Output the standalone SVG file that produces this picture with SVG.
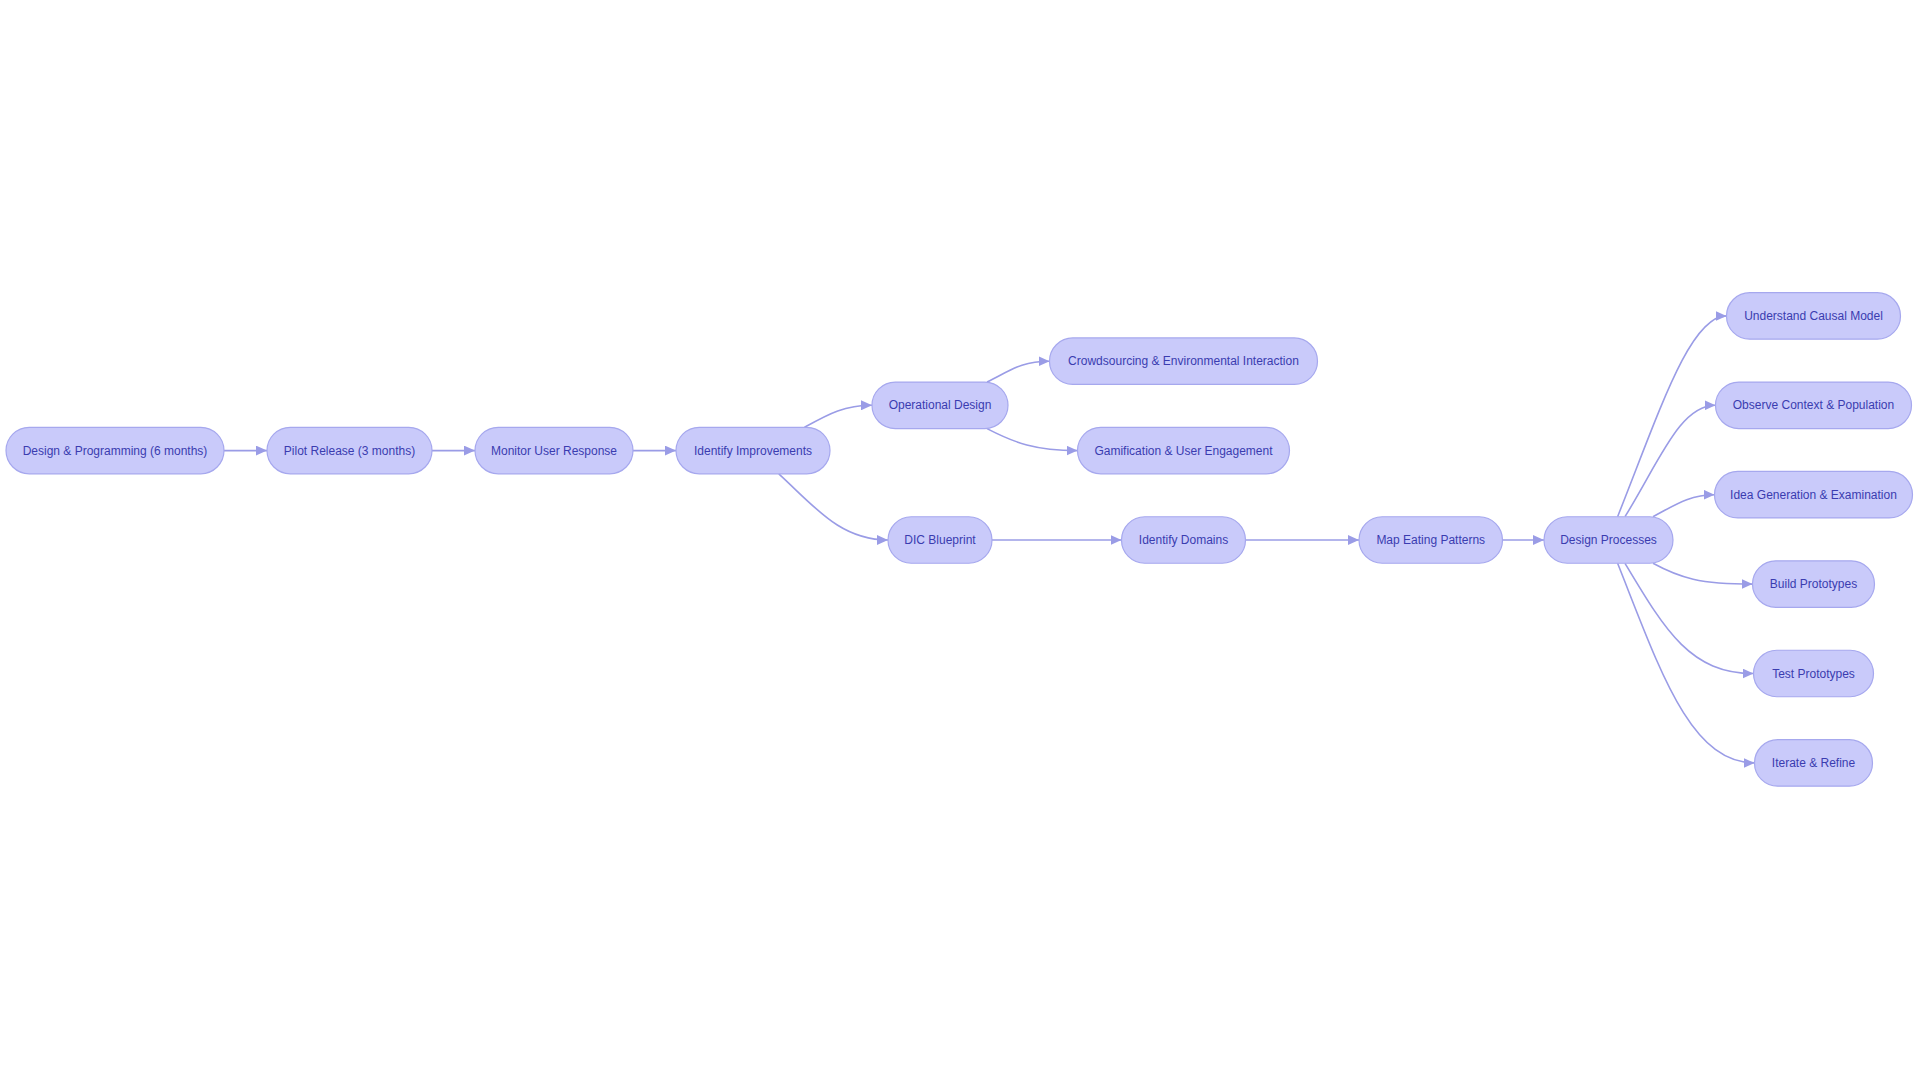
<svg xmlns="http://www.w3.org/2000/svg" width="1920" height="1080" viewBox="0 0 1920 1080">
<style>
.node rect{fill:#c9cafa;stroke:#a6a8ee;stroke-width:1.2}
.node text{font-family:"Liberation Sans",Arial,sans-serif;font-size:12px;fill:#3a3cb0;text-anchor:middle}
.edges path{fill:none;stroke:#9a9ce6;stroke-width:1.6;marker-end:url(#arrow)}
</style>
<defs>
<marker id="arrow" viewBox="0 0 11 10" refX="11" refY="5" markerWidth="11" markerHeight="10" markerUnits="userSpaceOnUse" orient="auto">
<path d="M0,0 L11,5 L0,10 z" fill="#9a9ce6"/>
</marker>
</defs>
<rect width="1920" height="1080" fill="#ffffff"/>
<g id="edges" class="edges">
<path d="M224,450.6 L267,450.6"/>
<path d="M432,450.6 L475,450.6"/>
<path d="M633,450.6 L676,450.6"/>
<path d="M804.5,427.3 C830,413 845,405.3 872,405.3"/>
<path d="M778.8,473.9 C815,507 840,540 888,540"/>
<path d="M987,382 C1010,371 1020,361.2 1049.5,361.2"/>
<path d="M987,428.6 C1015,443 1035,450.6 1077.5,450.6"/>
<path d="M992,540 L1121.5,540"/>
<path d="M1245.5,540 L1359,540"/>
<path d="M1502.5,540 L1544,540"/>
<path d="M1617.6,516.7 C1660,410 1690,315.9 1726.5,315.9"/>
<path d="M1625,516.7 C1660,460 1680,405.3 1715.5,405.3"/>
<path d="M1653,516.7 C1675,505 1690,494.7 1714.5,494.7"/>
<path d="M1653,563.3 C1680,578 1700,584.1 1752.5,584.1"/>
<path d="M1625,563.3 C1665,630 1690,673.5 1753.5,673.5"/>
<path d="M1617.6,563.3 C1660,670 1690,762.9 1754.5,762.9"/>
</g>
<g id="n1" class="node"><rect x="6" y="427.35" width="218" height="46.5" rx="23.25"/><text x="115" y="454.6">Design &amp; Programming (6 months)</text></g>
<g id="n2" class="node"><rect x="267" y="427.35" width="165" height="46.5" rx="23.25"/><text x="349.5" y="454.6">Pilot Release (3 months)</text></g>
<g id="n3" class="node"><rect x="475" y="427.35" width="158" height="46.5" rx="23.25"/><text x="554" y="454.6">Monitor User Response</text></g>
<g id="n4" class="node"><rect x="676" y="427.35" width="154" height="46.5" rx="23.25"/><text x="753" y="454.6">Identify Improvements</text></g>
<g id="n5" class="node"><rect x="872" y="382.05" width="136" height="46.5" rx="23.25"/><text x="940" y="409.3">Operational Design</text></g>
<g id="n6" class="node"><rect x="1049.5" y="337.95" width="268" height="46.5" rx="23.25"/><text x="1183.5" y="365.2">Crowdsourcing &amp; Environmental Interaction</text></g>
<g id="n7" class="node"><rect x="1077.5" y="427.35" width="212" height="46.5" rx="23.25"/><text x="1183.5" y="454.6">Gamification &amp; User Engagement</text></g>
<g id="n8" class="node"><rect x="888" y="516.75" width="104" height="46.5" rx="23.25"/><text x="940" y="544">DIC Blueprint</text></g>
<g id="n9" class="node"><rect x="1121.5" y="516.75" width="124" height="46.5" rx="23.25"/><text x="1183.5" y="544">Identify Domains</text></g>
<g id="n10" class="node"><rect x="1359" y="516.75" width="143.5" height="46.5" rx="23.25"/><text x="1430.75" y="544">Map Eating Patterns</text></g>
<g id="n11" class="node"><rect x="1544" y="516.75" width="129" height="46.5" rx="23.25"/><text x="1608.5" y="544">Design Processes</text></g>
<g id="n12" class="node"><rect x="1726.5" y="292.65" width="174" height="46.5" rx="23.25"/><text x="1813.5" y="319.9">Understand Causal Model</text></g>
<g id="n13" class="node"><rect x="1715.5" y="382.05" width="196" height="46.5" rx="23.25"/><text x="1813.5" y="409.3">Observe Context &amp; Population</text></g>
<g id="n14" class="node"><rect x="1714.5" y="471.45" width="198" height="46.5" rx="23.25"/><text x="1813.5" y="498.7">Idea Generation &amp; Examination</text></g>
<g id="n15" class="node"><rect x="1752.5" y="560.85" width="122" height="46.5" rx="23.25"/><text x="1813.5" y="588.1">Build Prototypes</text></g>
<g id="n16" class="node"><rect x="1753.5" y="650.25" width="120" height="46.5" rx="23.25"/><text x="1813.5" y="677.5">Test Prototypes</text></g>
<g id="n17" class="node"><rect x="1754.5" y="739.65" width="118" height="46.5" rx="23.25"/><text x="1813.5" y="766.9">Iterate &amp; Refine</text></g>
</svg>
